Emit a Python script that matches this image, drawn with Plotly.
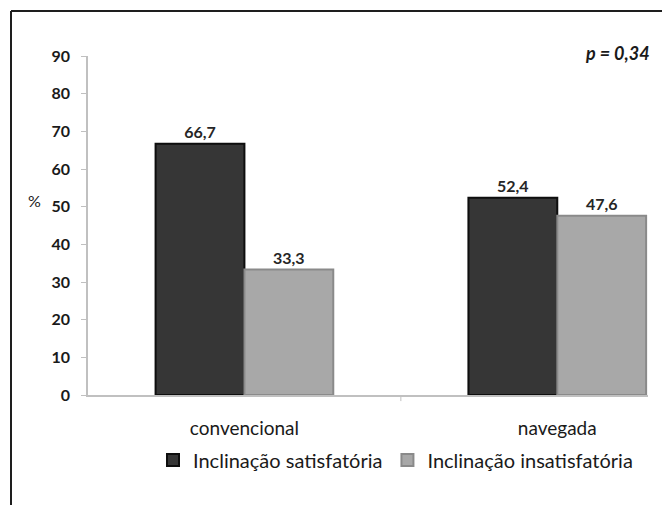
import plotly.graph_objects as go

# Data
categories = ["convencional", "navegada"]
satisfatoria = [66.7, 52.4]
insatisfatoria = [33.3, 47.6]
series_names = ["Inclinação satisfatória", "Inclinação insatisfatória"]
y_ticks = [0, 10, 20, 30, 40, 50, 60, 70, 80, 90]
p_text = "p = 0,34"

FONT = "Lato, 'Open Sans', sans-serif"
x_pos = list(range(len(categories)))


def fmt(v):
    return f"{v:.1f}".replace(".", ",")


fig = go.Figure()
fig.add_trace(go.Bar(
    x=x_pos, y=satisfatoria, name=series_names[0],
    marker=dict(color="#363636", line=dict(color="#0e0e0e", width=2)),
    text=[f"<b>{fmt(v)}</b>" for v in satisfatoria], textposition="outside",
    textfont=dict(family=FONT, size=16, color="#262626"),
    cliponaxis=False,
))
fig.add_trace(go.Bar(
    x=x_pos, y=insatisfatoria, name=series_names[1],
    marker=dict(color="#a8a8a8", line=dict(color="#8a8a8a", width=2)),
    text=[f"<b>{fmt(v)}</b>" for v in insatisfatoria], textposition="outside",
    textfont=dict(family=FONT, size=16, color="#262626"),
    cliponaxis=False,
))

fig.update_layout(
    width=662, height=505,
    margin=dict(l=88, r=14, t=56, b=110),
    paper_bgcolor="white", plot_bgcolor="white",
    barmode="group", bargap=0.432, bargroupgap=0,
    font=dict(family=FONT, color="#1a1a1a"),
    showlegend=True,
    legend=dict(
        orientation="h", x=(153 - 88) / 560, y=-0.192, xanchor="left", yanchor="middle",
        font=dict(family=FONT, size=20, color="#1a1a1a"),
        tracegroupgap=0, borderwidth=0,
    ),
    xaxis=dict(
        range=[-0.5, 1.29],
        tickvals=x_pos, ticktext=categories,
        tickfont=dict(family=FONT, size=19, color="#1a1a1a"),
        ticks="", showgrid=False, zeroline=False,
        showline=True, linecolor="#c0c0c0", linewidth=1.5,
        ticklabelstandoff=15,
    ),
    yaxis=dict(
        range=[0, 90], tickvals=y_ticks,
        tickfont=dict(family=FONT, size=16, color="#1a1a1a", weight="bold"),
        ticks="outside", ticklen=5, tickcolor="#c0c0c0", tickwidth=1,
        showgrid=False, zeroline=False,
        showline=True, linecolor="#c0c0c0", linewidth=1.5,
        ticklabelstandoff=8,
    ),
    shapes=[
        # category divider tick on the x axis
        dict(type="line", xref="x", yref="paper", x0=0.5, x1=0.5, y0=0, y1=-0.018,
             line=dict(color="#c0c0c0", width=1)),
        # outer frame (left and top edges)
        dict(type="line", xref="paper", yref="paper", x0=-0.1375, x1=-0.1375, y0=1.133, y1=-0.33,
             line=dict(color="#1e1e1e", width=2)),
        dict(type="line", xref="paper", yref="paper", x0=-0.1375, x1=1.03, y0=1.133, y1=1.133,
             line=dict(color="#1e1e1e", width=2)),
    ],
    annotations=[
        dict(text="%", xref="paper", yref="paper", x=-0.111, y=0.575,
             showarrow=False, font=dict(family=FONT, size=16, color="#1a1a1a")),
        dict(text=f"<b><i>{p_text}</i></b>", xref="paper", yref="paper", x=1.007, y=1.009,
             xanchor="right", yanchor="middle", showarrow=False,
             font=dict(family=FONT, size=18, color="#1a1a1a")),
    ],
)

fig.write_html("out.html")
